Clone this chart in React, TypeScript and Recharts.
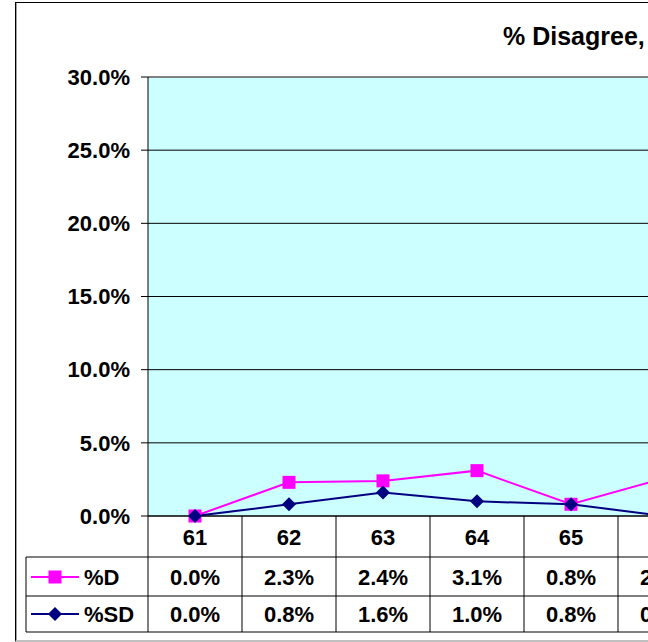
import React from "react"
import { LineChart, Line, XAxis, YAxis, CartesianGrid, ReferenceLine } from "recharts"

const categories = ["61", "62", "63", "64", "65", "66"]
const pctD = [0.0, 2.3, 2.4, 3.1, 0.8, 2.6]
const pctSD = [0.0, 0.8, 1.6, 1.0, 0.8, 0.0]
const yTicks = [0, 5, 10, 15, 20, 25, 30]

const data = categories.map((c, i) => ({ cat: c, d: pctD[i], sd: pctSD[i] }))

const FONT = "'Liberation Sans', Arial, sans-serif"
const MAGENTA = "#FF00FF"
const NAVY = "#000080"
const BAND = 94

const fmt = (v: number) => `${v.toFixed(1)}%`

const SquareDot = (props: any) => {
  const { cx, cy } = props
  if (cx == null || cy == null) return null
  return <rect x={cx - 6.5} y={cy - 6.5} width={13} height={13} fill={MAGENTA} />
}

const DiamondDot = (props: any) => {
  const { cx, cy } = props
  if (cx == null || cy == null) return null
  return <path d={`M${cx},${cy - 7} L${cx + 7},${cy} L${cx},${cy + 7} L${cx - 7},${cy} Z`} fill={NAVY} />
}

const txt = { fontFamily: FONT, fontWeight: 700, fontSize: 22, fill: "#000" }

// category label + data table cells under each category
const TableTick = (props: any) => {
  const { x, y, payload } = props
  const i = payload.index
  const half = BAND / 2
  const left = x - half
  return (
    <g>
      <text x={x} y={y + 29} textAnchor="middle" {...txt}>{categories[i]}</text>
      <text x={x} y={y + 69} textAnchor="middle" {...txt}>{fmt(pctD[i])}</text>
      <text x={x} y={y + 106} textAnchor="middle" {...txt}>{fmt(pctSD[i])}</text>
      <line x1={x + half} x2={x + half} y1={y} y2={y + 116} stroke="#000" />
      <line x1={left} x2={x + half} y1={y + 41} y2={y + 41} stroke="#000" />
      <line x1={left} x2={x + half} y1={y + 80} y2={y + 80} stroke="#000" />
      <line x1={left} x2={x + half} y1={y + 116} y2={y + 116} stroke="#000" />
      {i === 0 && (
        <g>
          <line x1={left} x2={left} y1={y} y2={y + 116} stroke="#000" />
          <line x1={left - 122} x2={left} y1={y + 41} y2={y + 41} stroke="#000" />
          <line x1={left - 122} x2={left} y1={y + 80} y2={y + 80} stroke="#000" />
          <line x1={left - 122} x2={left} y1={y + 116} y2={y + 116} stroke="#000" />
          <line x1={left - 122} x2={left - 122} y1={y + 41} y2={y + 116} stroke="#000" />
          <line x1={left - 117} x2={left - 69} y1={y + 61} y2={y + 61} stroke={MAGENTA} strokeWidth={2} />
          <rect x={left - 99.5} y={y + 54.5} width={13} height={13} fill={MAGENTA} />
          <text x={left - 64} y={y + 69} {...txt}>%D</text>
          <line x1={left - 117} x2={left - 69} y1={y + 98} y2={y + 98} stroke={NAVY} strokeWidth={2} />
          <path d={`M${left - 93},${y + 91} L${left - 86},${y + 98} L${left - 93},${y + 105} L${left - 100},${y + 98} Z`} fill={NAVY} />
          <text x={left - 64} y={y + 106} {...txt}>%SD</text>
        </g>
      )}
    </g>
  )
}

export default function App() {
  return (
    <div style={{ position: "absolute", left: 0, top: 0, width: 648, height: 642, overflow: "hidden", background: "#fff" }}>
      <div
        style={{
          position: "absolute",
          left: 15,
          top: 2,
          width: 760,
          height: 637,
          borderLeft: "1px solid #000",
          borderTop: "1px solid #000",
          borderBottom: "2px solid #c0c0c0",
          boxShadow: "inset 1px 0 0 #a0a0a0",
        }}
      />
      <div style={{ position: "absolute", left: 0, top: 0 }}>
        <LineChart width={760} height={642} data={data} margin={{ top: 77, right: 48, left: 0, bottom: 10 }}>
          <CartesianGrid vertical={false} stroke="#000" fill="#CCFFFF" fillOpacity={1} />
          <ReferenceLine y={30} stroke="#808080" strokeWidth={2} />
          <XAxis
            dataKey="cat"
            height={116}
            padding={{ left: BAND / 2, right: BAND / 2 }}
            axisLine={{ stroke: "#000" }}
            tickLine={false}
            tickSize={0}
            tickMargin={0}
            interval={0}
            tick={<TableTick />}
          />
          <YAxis
            width={148}
            domain={[0, 30]}
            ticks={yTicks}
            interval={0}
            tickFormatter={fmt}
            axisLine={{ stroke: "#000" }}
            tickLine={{ stroke: "#000" }}
            tickSize={7}
            tickMargin={11}
            tick={{ fontFamily: FONT, fontWeight: 700, fontSize: 22, fill: "#000" }}
          />
          <Line dataKey="d" stroke={MAGENTA} strokeWidth={2} dot={<SquareDot />} isAnimationActive={false} />
          <Line dataKey="sd" stroke={NAVY} strokeWidth={2} dot={<DiamondDot />} isAnimationActive={false} />
        </LineChart>
      </div>
      <svg width={648} height={60} style={{ position: "absolute", left: 0, top: 0 }}>
        <text x={503} y={45} fontFamily={FONT} fontWeight={700} fontSize={25} fill="#000">% Disagree,</text>
      </svg>
    </div>
  )
}
